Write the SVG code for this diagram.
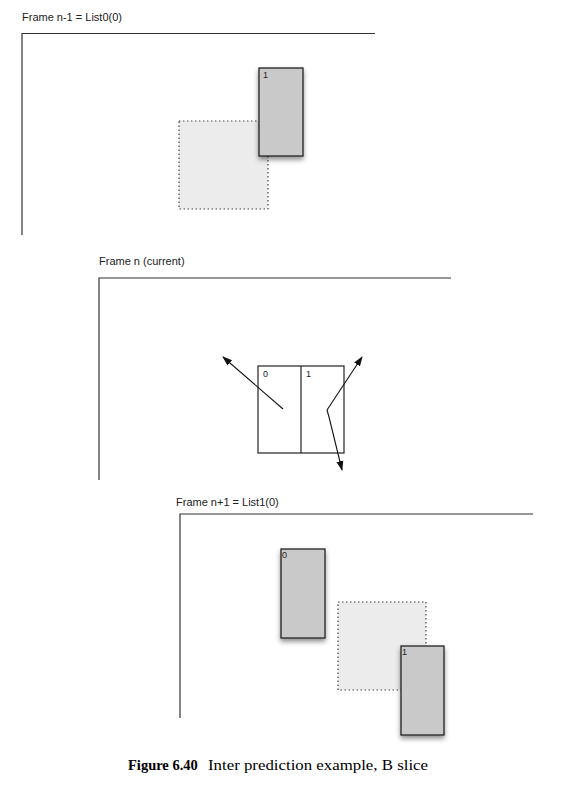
<svg xmlns="http://www.w3.org/2000/svg" width="562" height="789" viewBox="0 0 562 789">
<style>
.title{font-family:"Liberation Sans",Arial,sans-serif;font-size:11px;fill:#222}
.lbl{font-family:"Liberation Sans",Arial,sans-serif;font-size:9px;fill:#222}
.frame{fill:none;stroke:#333;stroke-width:1.2}
.blk{fill:#c9c9c9;stroke:#222;stroke-width:1.3;filter:url(#sh)}
.dot{fill:#ececec;stroke:#444;stroke-width:1.2;stroke-dasharray:1.5 2.5}
.mb{fill:none;stroke:#222;stroke-width:1.2}
.mv{fill:none;stroke:#111;stroke-width:1.1;marker-end:url(#ah)}
.cap{font-family:"Liberation Serif","Times New Roman",serif;font-size:15px;fill:#000}
</style>
<defs>
<filter id="sh" x="-30%" y="-20%" width="160%" height="140%">
<feDropShadow dx="0" dy="3" stdDeviation="2.5" flood-color="#000" flood-opacity="0.45"/>
</filter>
<marker id="ah" viewBox="0 0 10 10" refX="9" refY="5" markerWidth="10" markerHeight="10" markerUnits="userSpaceOnUse" orient="auto">
<path d="M0,1.5 L10,5 L0,8.5 Z" fill="#111"/>
</marker>
</defs>
<rect width="562" height="789" fill="#fff"/>

<g id="frame-n-1">
<text class="title" x="22" y="21">Frame n-1 = List0(0)</text>
<path class="frame" d="M375,33.5 H22 V235"/>
<rect class="dot" x="179" y="121" width="89" height="88"/>
<rect class="blk" x="259" y="68" width="44" height="88"/>
<text class="lbl" x="263" y="78">1</text>
</g>

<g id="frame-n">
<text class="title" x="99" y="265">Frame n (current)</text>
<path class="frame" d="M451,278 H99 V480"/>
<rect class="mb" x="258" y="366" width="86" height="87"/>
<line class="mb" x1="301" y1="366" x2="301" y2="453"/>
<text class="lbl" x="263" y="377">0</text>
<text class="lbl" x="306" y="377">1</text>
</g>

<g id="frame-n1">
<text class="title" x="176" y="506">Frame n+1 = List1(0)</text>
<path class="frame" d="M533,514 H180 V718"/>
<rect class="blk" x="281" y="549" width="44" height="89"/>
<text class="lbl" x="282" y="558">0</text>
<rect class="dot" x="338" y="602" width="88" height="88"/>
<rect class="blk" x="401" y="646" width="43" height="89"/>
<text class="lbl" x="402" y="655">1</text>
</g>

<g id="connectors">
<path class="mv" d="M283,409 L223,357"/>
<path class="mv" d="M327,410 L362,357"/>
<path class="mv" d="M327,410 L329,417 L342,470"/>
</g>

<g id="caption">
<text class="cap" x="128" y="770"><tspan font-weight="bold" font-size="14.5">Figure 6.40</tspan><tspan x="208" textLength="220" lengthAdjust="spacingAndGlyphs">Inter prediction example, B slice</tspan></text>
</g>
</svg>
